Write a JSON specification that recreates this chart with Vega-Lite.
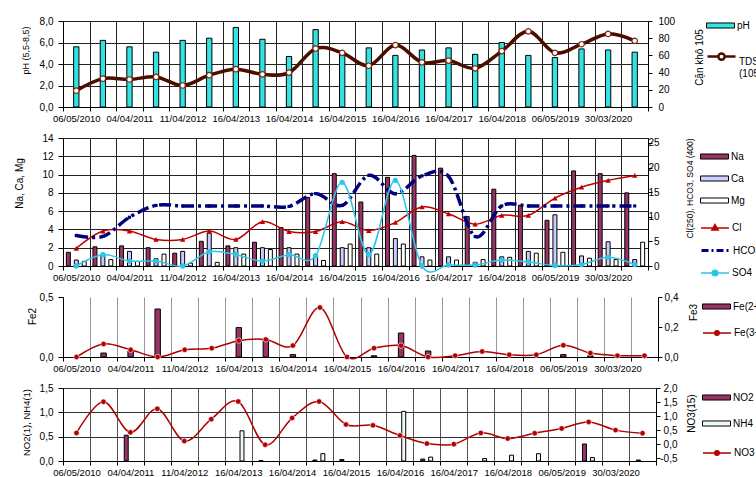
{
  "$schema": "https://vega.github.io/schema/vega-lite/v6.json",
  "padding": {"left": 14, "top": 16, "right": 0, "bottom": 0},
  "bounds": "flush",
  "spacing": 31,
  "resolve": {"scale": {"fill": "independent", "stroke": "independent"}, "legend": {"fill": "independent", "stroke": "independent"}},
  "config": {
    "font": "Liberation Sans",
    "view": {"stroke": null},
    "axis": {"labelFont": "Liberation Sans", "titleFont": "Liberation Sans", "labelFontSize": 10, "titleFontWeight": "normal", "labelColor": "#000", "titleColor": "#000", "domainColor": "#000", "tickColor": "#000", "gridOpacity": 1, "labelOverlap": false},
    "axisX": {"labelFontSize": 9.5},
    "legend": {"labelFont": "Liberation Sans", "labelFontSize": 10, "labelColor": "#000", "padding": 0}
  },
  "datasets": {
    "p1": [
      {"n": 1, "pH": 5.6, "TDS": 19}, {"n": 2, "pH": 6.2, "TDS": 33}, {"n": 3, "pH": 5.6, "TDS": 32},
      {"n": 4, "pH": 5.1, "TDS": 35}, {"n": 5, "pH": 6.2, "TDS": 25}, {"n": 6, "pH": 6.4, "TDS": 37},
      {"n": 7, "pH": 7.4, "TDS": 44}, {"n": 8, "pH": 6.3, "TDS": 38}, {"n": 9, "pH": 4.7, "TDS": 40},
      {"n": 10, "pH": 7.2, "TDS": 68}, {"n": 11, "pH": 5.0, "TDS": 63}, {"n": 12, "pH": 5.5, "TDS": 48},
      {"n": 13, "pH": 4.8, "TDS": 72}, {"n": 14, "pH": 5.3, "TDS": 52}, {"n": 15, "pH": 5.5, "TDS": 54},
      {"n": 16, "pH": 4.9, "TDS": 45}, {"n": 17, "pH": 6.0, "TDS": 65}, {"n": 18, "pH": 4.8, "TDS": 88},
      {"n": 19, "pH": 4.6, "TDS": 63}, {"n": 20, "pH": 5.4, "TDS": 73}, {"n": 21, "pH": 5.3, "TDS": 85},
      {"n": 22, "pH": 5.1, "TDS": 77}
    ],
    "p2": [
      {"n": 1, "Na": 1.5, "Ca": 0.65, "Mg": 0.5, "Cl": 3.6, "HCO3": 6.2, "SO4": 0.0},
      {"n": 2, "Na": 2.1, "Ca": 1.2, "Mg": 0.7, "Cl": 7.1, "HCO3": 6.0, "SO4": 2.3},
      {"n": 3, "Na": 2.2, "Ca": 1.6, "Mg": 0.5, "Cl": 7.1, "HCO3": 9.9, "SO4": 1.0},
      {"n": 4, "Na": 2.0, "Ca": 0.8, "Mg": 1.3, "Cl": 5.4, "HCO3": 12.3, "SO4": 1.0},
      {"n": 5, "Na": 1.4, "Ca": 1.6, "Mg": 0.3, "Cl": 5.4, "HCO3": 12.2, "SO4": 0.0},
      {"n": 6, "Na": 2.7, "Ca": 3.6, "Mg": 0.4, "Cl": 7.1, "HCO3": 12.2, "SO4": 2.9},
      {"n": 7, "Na": 2.2, "Ca": 2.0, "Mg": 1.3, "Cl": 5.4, "HCO3": 12.2, "SO4": 2.3},
      {"n": 8, "Na": 2.6, "Ca": 2.0, "Mg": 1.8, "Cl": 9.0, "HCO3": 12.2, "SO4": 1.0},
      {"n": 9, "Na": 4.2, "Ca": 2.0, "Mg": 1.3, "Cl": 7.0, "HCO3": 12.1, "SO4": 2.3},
      {"n": 10, "Na": 7.5, "Ca": 1.0, "Mg": 0.6, "Cl": 7.0, "HCO3": 14.7, "SO4": 2.1},
      {"n": 11, "Na": 10.1, "Ca": 2.0, "Mg": 2.4, "Cl": 9.0, "HCO3": 12.3, "SO4": 17.0},
      {"n": 12, "Na": 7.0, "Ca": 2.0, "Mg": 1.3, "Cl": 7.2, "HCO3": 18.4, "SO4": 2.3},
      {"n": 13, "Na": 9.7, "Ca": 3.0, "Mg": 2.4, "Cl": 8.85, "HCO3": 14.7, "SO4": 17.4},
      {"n": 14, "Na": 12.1, "Ca": 1.0, "Mg": 0.65, "Cl": 12.0, "HCO3": 18.3, "SO4": 0.0},
      {"n": 15, "Na": 10.7, "Ca": 1.0, "Mg": 0.65, "Cl": 10.6, "HCO3": 18.2, "SO4": 0.2},
      {"n": 16, "Na": 5.4, "Ca": 0.4, "Mg": 0.7, "Cl": 8.5, "HCO3": 6.0, "SO4": 0.2},
      {"n": 17, "Na": 8.4, "Ca": 1.0, "Mg": 0.95, "Cl": 10.3, "HCO3": 12.2, "SO4": 1.2},
      {"n": 18, "Na": 6.65, "Ca": 1.6, "Mg": 1.4, "Cl": 10.3, "HCO3": 12.2, "SO4": 0.8},
      {"n": 19, "Na": 5.0, "Ca": 5.6, "Mg": 1.5, "Cl": 13.8, "HCO3": 12.2, "SO4": 0.1},
      {"n": 20, "Na": 10.4, "Ca": 1.1, "Mg": 0.85, "Cl": 16.0, "HCO3": 12.2, "SO4": 0.3},
      {"n": 21, "Na": 10.1, "Ca": 2.65, "Mg": 0.7, "Cl": 17.4, "HCO3": 12.2, "SO4": 1.8},
      {"n": 22, "Na": 8.0, "Ca": 0.7, "Mg": 2.6, "Cl": 18.4, "HCO3": 12.2, "SO4": 0.3}
    ],
    "p3": [
      {"n": 1, "Fe2": null, "Fe3": 0.0}, {"n": 2, "Fe2": 0.033, "Fe3": 0.087}, {"n": 3, "Fe2": 0.05, "Fe3": 0.048},
      {"n": 4, "Fe2": 0.4, "Fe3": 0.0}, {"n": 5, "Fe2": null, "Fe3": 0.048}, {"n": 6, "Fe2": null, "Fe3": 0.059},
      {"n": 7, "Fe2": 0.245, "Fe3": 0.109}, {"n": 8, "Fe2": 0.15, "Fe3": 0.117}, {"n": 9, "Fe2": 0.02, "Fe3": 0.076},
      {"n": 10, "Fe2": null, "Fe3": 0.33}, {"n": 11, "Fe2": null, "Fe3": 0.0}, {"n": 12, "Fe2": 0.01, "Fe3": 0.059},
      {"n": 13, "Fe2": 0.2, "Fe3": 0.076}, {"n": 14, "Fe2": 0.05, "Fe3": 0.0}, {"n": 15, "Fe2": null, "Fe3": 0.009},
      {"n": 16, "Fe2": null, "Fe3": 0.037}, {"n": 17, "Fe2": null, "Fe3": 0.015}, {"n": 18, "Fe2": null, "Fe3": 0.015},
      {"n": 19, "Fe2": 0.02, "Fe3": 0.078}, {"n": 20, "Fe2": 0.01, "Fe3": 0.026}, {"n": 21, "Fe2": null, "Fe3": 0.009},
      {"n": 22, "Fe2": null, "Fe3": 0.009}
    ],
    "p4": [
      {"n": 1, "NO2": null, "NH4": null, "NO3": 0.4}, {"n": 2, "NO2": null, "NH4": null, "NO3": 1.51},
      {"n": 3, "NO2": 0.53, "NH4": null, "NO3": 0.42}, {"n": 4, "NO2": null, "NH4": null, "NO3": 1.26},
      {"n": 5, "NO2": null, "NH4": null, "NO3": 0.11}, {"n": 6, "NO2": null, "NH4": null, "NO3": 0.89},
      {"n": 7, "NO2": null, "NH4": 0.62, "NO3": 1.52}, {"n": 8, "NO2": 0.01, "NH4": null, "NO3": -0.02},
      {"n": 9, "NO2": null, "NH4": null, "NO3": 0.93}, {"n": 10, "NO2": 0.02, "NH4": 0.15, "NO3": 1.52},
      {"n": 11, "NO2": 0.03, "NH4": null, "NO3": 0.7}, {"n": 12, "NO2": null, "NH4": null, "NO3": 0.67},
      {"n": 13, "NO2": null, "NH4": 1.02, "NO3": 0.31}, {"n": 14, "NO2": 0.04, "NH4": 0.08, "NO3": 0.02},
      {"n": 15, "NO2": null, "NH4": null, "NO3": 0.0}, {"n": 16, "NO2": null, "NH4": 0.05, "NO3": 0.4},
      {"n": 17, "NO2": null, "NH4": 0.12, "NO3": 0.2}, {"n": 18, "NO2": null, "NH4": 0.15, "NO3": 0.39},
      {"n": 19, "NO2": null, "NH4": null, "NO3": 0.56}, {"n": 20, "NO2": 0.35, "NH4": 0.07, "NO3": 0.79},
      {"n": 21, "NO2": null, "NH4": null, "NO3": 0.5}, {"n": 22, "NO2": 0.02, "NH4": null, "NO3": 0.39}
    ]
  },
  "vconcat": [
    {
      "width": 585, "height": 86,
      "data": {"name": "p1"},
      "layer": [
        {
          "mark": {"type": "bar", "width": {"band": 0.2}, "stroke": "#000", "strokeWidth": 1},
          "encoding": {
            "x": {"field": "n", "type": "ordinal", "scale": {"paddingInner": 0, "paddingOuter": 0},
              "axis": {"title": null, "labelAngle": 0, "tickBand": "extent", "labelOverlap": false, "grid": true, "gridColor": "#222", "labelPadding": 2, "tickSize": 4,
                "labelExpr": "['06/05/2010','','04/04/2011','','11/04/2012','','16/04/2013','','16/04/2014','','16/04/2015','','16/04/2016','','16/04/2017','','16/04/2018','','06/05/2019','','30/03/2020',''][datum.value - 1]"}},
            "y": {"field": "pH", "type": "quantitative", "scale": {"domain": [0, 8]},
              "axis": {"orient": "left", "values": [0, 2, 4, 6, 8], "tickCount": 20, "format": ".1f", "labelExpr": "replace(datum.label, '.', ',')", "title": "pH (5,5-8,5)", "titleFontSize": 9, "titleAngle": 270, "titleAlign": "center", "titleBaseline": "middle", "titleX": -38, "titleY": 29, "grid": true, "gridColor": "#222", "tickSize": 5, "labelPadding": 5}},
            "fill": {"datum": "pH", "type": "nominal", "scale": {"range": ["#33e3e3"]},
              "legend": {"title": null, "orient": "none", "legendX": 650, "legendY": -3, "symbolType": "M-2,-0.36H2V0.36H-2Z", "symbolSize": 196, "symbolStrokeWidth": 1, "labelOffset": 9}}
          }
        },
        {
          "layer": [
            {
              "mark": {"type": "line", "interpolate": "cardinal", "strokeWidth": 3.5},
              "encoding": {
                "x": {"field": "n", "type": "ordinal"},
                "y": {"field": "TDS", "type": "quantitative", "scale": {"domain": [0, 100]},
                  "axis": {"orient": "right", "values": [0, 20, 40, 60, 80, 100], "tickCount": 20, "title": "Cặn khô 105", "titleFontSize": 10, "titleAngle": 270, "titleAlign": "center", "titleBaseline": "middle", "titleX": 51, "titleY": 36, "grid": false, "tickSize": 4, "labelPadding": 6, "labelOverlap": false}},
                "stroke": {"datum": "TDS (105°C)", "type": "nominal", "scale": {"range": ["#4a0d00"]},
                  "legend": {"title": null, "orient": "none", "legendX": 650, "legendY": 32, "symbolType": "M-2,-0.71H-0.45M0.45,-0.71H2M0.45,-0.71A0.45,0.45 0 1,1 -0.45,-0.71A0.45,0.45 0 1,1 0.45,-0.71Z", "symbolSize": 196, "symbolStrokeWidth": 2.5, "symbolFillColor": "#ffffff", "labelOffset": 9, "labelExpr": "split(datum.label, ' ')"}}
              }
            },
            {
              "mark": {"type": "point", "filled": true, "fill": "#ffffff", "stroke": "#7a2a10", "strokeWidth": 1.2, "size": 30, "opacity": 1},
              "encoding": {
                "x": {"field": "n", "type": "ordinal"},
                "y": {"field": "TDS", "type": "quantitative"}
              }
            }
          ]
        }
      ],
      "resolve": {"scale": {"y": "independent"}}
    },
    {
      "width": 585, "height": 128,
      "data": {"name": "p2"},
      "layer": [
        {
          "transform": [{"fold": ["Na", "Ca", "Mg"], "as": ["ion", "val"]}],
          "mark": {"type": "bar", "stroke": "#000", "strokeWidth": 1},
          "encoding": {
            "x": {"field": "n", "type": "ordinal", "scale": {"paddingInner": 0, "paddingOuter": 0},
              "axis": {"title": null, "labelAngle": 0, "tickBand": "extent", "labelOverlap": false, "grid": true, "gridColor": "#222", "labelPadding": 2, "tickSize": 4,
                "labelExpr": "['06/05/2010','','04/04/2011','','11/04/2012','','16/04/2013','','16/04/2014','','16/04/2015','','16/04/2016','','16/04/2017','','16/04/2018','','06/05/2019','','30/03/2020',''][datum.value - 1]"}},
            "xOffset": {"field": "ion", "type": "nominal", "sort": ["Na", "Ca", "Mg"], "scale": {"paddingInner": 0, "paddingOuter": 0.85}},
            "y": {"field": "val", "type": "quantitative", "scale": {"domain": [0, 14]},
              "axis": {"orient": "left", "values": [0, 2, 4, 6, 8, 10, 12, 14], "tickCount": 20, "format": "d", "title": "Na, Ca, Mg", "titleFontSize": 10, "titleAngle": 270, "titleAlign": "center", "titleBaseline": "middle", "titleX": -44, "titleY": 45, "grid": true, "gridColor": "#222", "tickSize": 5, "labelPadding": 5}},
            "fill": {"field": "ion", "type": "nominal", "sort": ["Na", "Ca", "Mg"], "scale": {"domain": ["Na", "Ca", "Mg"], "range": ["#993366", "#ccccff", "#ffffff"]},
              "legend": {"title": null, "orient": "none", "legendX": 644, "legendY": 11, "rowPadding": 9, "symbolType": "M-2,-0.36H2V0.36H-2Z", "symbolSize": 196, "symbolStrokeWidth": 1, "labelOffset": 9}}
          }
        },
        {
          "layer": [
            {
              "mark": {"type": "line", "interpolate": "cardinal", "strokeWidth": 1.5},
              "encoding": {
                "x": {"field": "n", "type": "ordinal"},
                "y": {"field": "Cl", "type": "quantitative", "scale": {"domain": [0, 25]},
                  "axis": {"orient": "right", "values": [0, 5, 10, 15, 20, 25], "tickCount": 20, "title": "Cl(250), HCO3, SO4 (400)", "titleFontSize": 8.5, "titleAngle": 270, "titleAlign": "center", "titleBaseline": "middle", "titleX": 41, "titleY": 50, "grid": false, "tickSize": 4, "labelPadding": 7, "labelAlign": "right", "labelOverlap": false}},
                "stroke": {"datum": "Cl", "type": "nominal", "scale": {"range": ["#c00000"]},
                  "legend": {"title": null, "orient": "none", "legendX": 644, "legendY": 82, "symbolType": "M-2,0H2M0,-0.5L0.45,0.3L-0.45,0.3Z", "symbolSize": 196, "symbolStrokeWidth": 1.5, "symbolFillColor": "#c00000", "labelOffset": 9}}
              }
            },
            {
              "mark": {"type": "point", "shape": "triangle-up", "filled": true, "color": "#c00000", "size": 30, "opacity": 1},
              "encoding": {"x": {"field": "n", "type": "ordinal"}, "y": {"field": "Cl", "type": "quantitative"}}
            },
            {
              "mark": {"type": "line", "interpolate": "cardinal", "strokeWidth": 3.5, "strokeDash": [12, 4, 3, 4]},
              "encoding": {
                "x": {"field": "n", "type": "ordinal"},
                "y": {"field": "HCO3", "type": "quantitative"},
                "stroke": {"datum": "HCO3", "type": "nominal", "scale": {"range": ["#000080"]},
                  "legend": {"title": null, "orient": "none", "legendX": 644, "legendY": 104, "symbolType": "M-2,0H2", "symbolSize": 196, "symbolStrokeWidth": 3, "symbolDash": [7, 3, 2, 3], "labelOffset": 9}}
              }
            },
            {
              "mark": {"type": "point", "shape": "square", "filled": true, "color": "#000080", "size": 10, "opacity": 1},
              "encoding": {"x": {"field": "n", "type": "ordinal"}, "y": {"field": "HCO3", "type": "quantitative"}}
            },
            {
              "mark": {"type": "line", "interpolate": "cardinal", "strokeWidth": 1.5},
              "encoding": {
                "x": {"field": "n", "type": "ordinal"},
                "y": {"field": "SO4", "type": "quantitative"},
                "stroke": {"datum": "SO4", "type": "nominal", "scale": {"range": ["#2fc4ea"]},
                  "legend": {"title": null, "orient": "none", "legendX": 644, "legendY": 127, "symbolType": "M-2,0H-0.4M0.4,0H2M0.4,0A0.4,0.4 0 1,1 -0.4,0A0.4,0.4 0 1,1 0.4,0Z", "symbolSize": 196, "symbolStrokeWidth": 1.5, "symbolFillColor": "#2fc4ea", "labelOffset": 9}}
              }
            },
            {
              "mark": {"type": "point", "shape": "circle", "filled": true, "color": "#2fc4ea", "size": 28, "opacity": 1},
              "encoding": {"x": {"field": "n", "type": "ordinal"}, "y": {"field": "SO4", "type": "quantitative"}}
            }
          ],
          "resolve": {"scale": {"stroke": "independent"}}
        }
      ],
      "resolve": {"scale": {"y": "independent", "stroke": "independent"}}
    },
    {
      "width": 595, "height": 60,
      "data": {"name": "p3"},
      "layer": [
        {
          "mark": {"type": "bar", "width": {"band": 0.2}, "stroke": "#000", "strokeWidth": 1},
          "encoding": {
            "x": {"field": "n", "type": "ordinal", "scale": {"paddingInner": 0, "paddingOuter": 0},
              "axis": {"title": null, "labelAngle": 0, "tickBand": "extent", "labelOverlap": false, "grid": true, "gridColor": "#999", "labelPadding": 2, "tickSize": 4,
                "labelExpr": "['06/05/2010','','04/04/2011','','11/04/2012','','16/04/2013','','16/04/2014','','16/04/2015','','16/04/2016','','16/04/2017','','16/04/2018','','06/05/2019','','30/03/2020',''][datum.value - 1]"}},
            "y": {"field": "Fe2", "type": "quantitative", "scale": {"domain": [0, 0.5]},
              "axis": {"orient": "left", "values": [0, 0.5], "tickCount": 20, "format": ".1f", "labelExpr": "replace(datum.label, '.', ',')", "title": "Fe2", "titleFontSize": 10, "titleAngle": 270, "titleAlign": "center", "titleBaseline": "middle", "titleX": -31, "titleY": 19, "grid": false, "tickSize": 5, "labelPadding": 5}},
            "fill": {"datum": "Fe(2+)", "type": "nominal", "scale": {"range": ["#993366"]},
              "legend": {"title": null, "orient": "none", "legendX": 646, "legendY": 2, "symbolType": "M-2,-0.36H2V0.36H-2Z", "symbolSize": 196, "symbolStrokeWidth": 1, "labelOffset": 9}}
          }
        },
        {
          "layer": [
            {
              "mark": {"type": "line", "interpolate": "cardinal", "strokeWidth": 1.5},
              "encoding": {
                "x": {"field": "n", "type": "ordinal"},
                "y": {"field": "Fe3", "type": "quantitative", "scale": {"domain": [0, 0.4]},
                  "axis": {"orient": "right", "values": [0, 0.2, 0.4], "tickCount": 20, "format": ".1f", "labelExpr": "replace(datum.label, '.', ',')", "title": "Fe3", "titleFontSize": 10, "titleAngle": 270, "titleAlign": "center", "titleBaseline": "middle", "titleX": 35, "titleY": 15, "grid": false, "tickSize": 4, "labelPadding": 16, "labelAlign": "right", "labelOverlap": false}},
                "stroke": {"datum": "Fe(3+)", "type": "nominal", "scale": {"range": ["#b00000"]},
                  "legend": {"title": null, "orient": "none", "legendX": 646, "legendY": 28, "symbolType": "M-2,0H-0.4M0.4,0H2M0.32,0A0.32,0.32 0 1,1 -0.32,0A0.32,0.32 0 1,1 0.32,0Z", "symbolSize": 196, "symbolStrokeWidth": 1.5, "symbolFillColor": "#b00000", "labelOffset": 9}}
              }
            },
            {
              "mark": {"type": "point", "shape": "circle", "filled": true, "color": "#b00000", "stroke": "#ffffff", "strokeWidth": 0.6, "size": 30, "opacity": 1},
              "encoding": {"x": {"field": "n", "type": "ordinal"}, "y": {"field": "Fe3", "type": "quantitative"}}
            }
          ]
        }
      ],
      "resolve": {"scale": {"y": "independent"}}
    },
    {
      "width": 593, "height": 73,
      "data": {"name": "p4"},
      "layer": [
        {
          "transform": [{"fold": ["NO2", "NH4"], "as": ["ion", "val"]}],
          "mark": {"type": "bar", "stroke": "#000", "strokeWidth": 1},
          "encoding": {
            "x": {"field": "n", "type": "ordinal", "scale": {"paddingInner": 0, "paddingOuter": 0},
              "axis": {"title": null, "labelAngle": 0, "tickBand": "extent", "labelOverlap": false, "grid": true, "gridColor": "#555", "labelPadding": 2, "tickSize": 4,
                "labelExpr": "['06/05/2010','','04/04/2011','','11/04/2012','','16/04/2013','','16/04/2014','','16/04/2015','','16/04/2016','','16/04/2017','','16/04/2018','','06/05/2019','','30/03/2020',''][datum.value - 1]"}},
            "xOffset": {"field": "ion", "type": "nominal", "sort": ["NO2", "NH4"], "scale": {"paddingInner": 0, "paddingOuter": 1.5}},
            "y": {"field": "val", "type": "quantitative", "scale": {"domain": [0, 1.5]},
              "axis": {"orient": "left", "values": [0, 0.5, 1, 1.5], "tickCount": 20, "format": ".1f", "labelExpr": "replace(datum.label, '.', ',')", "title": "NO2(1), NH4(1)", "titleFontSize": 9.5, "titleAngle": 270, "titleAlign": "center", "titleBaseline": "middle", "titleX": -37, "titleY": 34, "grid": true, "gridColor": "#333", "tickSize": 5, "labelPadding": 5}},
            "fill": {"field": "ion", "type": "nominal", "sort": ["NO2", "NH4"], "scale": {"domain": ["NO2", "NH4"], "range": ["#993366", "#eef8f8"]},
              "legend": {"title": null, "orient": "none", "legendX": 646, "legendY": 2, "rowPadding": 13, "symbolType": "M-2,-0.36H2V0.36H-2Z", "symbolSize": 196, "symbolStrokeWidth": 1, "labelOffset": 9}}
          }
        },
        {
          "layer": [
            {
              "mark": {"type": "line", "interpolate": "cardinal", "strokeWidth": 1.5},
              "encoding": {
                "x": {"field": "n", "type": "ordinal"},
                "y": {"field": "NO3", "type": "quantitative", "scale": {"domain": [-0.5, 2]},
                  "axis": {"orient": "right", "values": [-0.5, 0, 0.5, 1, 1.5, 2], "tickCount": 20, "format": ".1f", "labelExpr": "replace(replace(datum.label, '.', ','), '−', '-')", "title": "NO3(15)", "titleFontSize": 10, "titleAngle": 270, "titleAlign": "center", "titleBaseline": "middle", "titleX": 35, "titleY": 25, "grid": false, "tickSize": 4, "labelPadding": 17, "labelAlign": "right", "labelOverlap": false}},
                "stroke": {"datum": "NO3", "type": "nominal", "scale": {"range": ["#b00000"]},
                  "legend": {"title": null, "orient": "none", "legendX": 646, "legendY": 57, "symbolType": "M-2,0H-0.4M0.4,0H2M0.32,0A0.32,0.32 0 1,1 -0.32,0A0.32,0.32 0 1,1 0.32,0Z", "symbolSize": 196, "symbolStrokeWidth": 1.5, "symbolFillColor": "#b00000", "labelOffset": 9}}
              }
            },
            {
              "mark": {"type": "point", "shape": "circle", "filled": true, "color": "#b00000", "stroke": "#ffffff", "strokeWidth": 0.6, "size": 30, "opacity": 1},
              "encoding": {"x": {"field": "n", "type": "ordinal"}, "y": {"field": "NO3", "type": "quantitative"}}
            }
          ]
        }
      ],
      "resolve": {"scale": {"y": "independent"}}
    }
  ]
}
